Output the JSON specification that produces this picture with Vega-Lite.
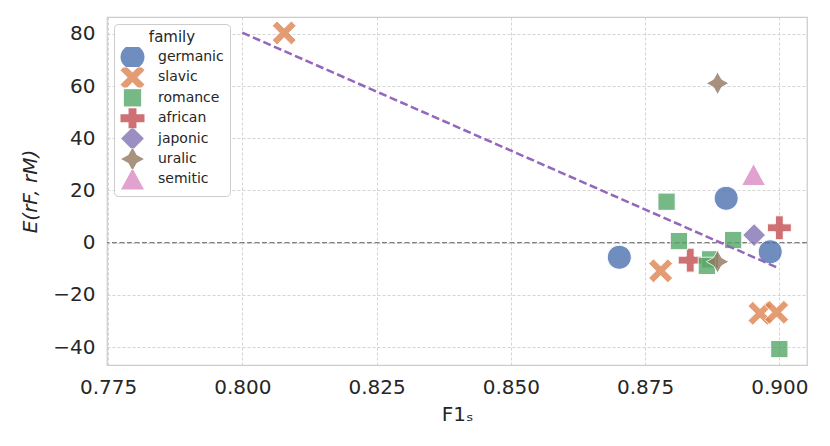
{
  "$schema": "https://vega.github.io/schema/vega-lite/v6.json",
  "width": 700,
  "height": 348,
  "autosize": {"type": "none"},
  "padding": {"left": 107, "top": 17, "right": 23, "bottom": 81},
  "config": {
    "view": {"stroke": "#cccccc", "strokeWidth": 1.25},
    "axis": {
      "labelFont": "DejaVu Sans",
      "labelFontSize": 20,
      "labelColor": "#262626",
      "titleFont": "DejaVu Sans",
      "titleFontSize": 20,
      "titleFontWeight": "normal",
      "titleColor": "#262626",
      "ticks": false,
      "domain": false,
      "grid": true,
      "gridColor": "#cfcfcf",
      "gridDash": [3, 2],
      "gridWidth": 0.9
    },
    "legend": {
      "orient": "top-left",
      "offset": 7,
      "titleAnchor": "middle",
      "titleFont": "DejaVu Sans",
      "titleFontSize": 15,
      "titleFontWeight": "normal",
      "titleColor": "#262626",
      "titlePadding": 2,
      "labelFont": "DejaVu Sans",
      "labelFontSize": 14,
      "labelColor": "#262626",
      "labelOffset": 13,
      "symbolSize": 576,
      "symbolStrokeColor": "white",
      "symbolStrokeWidth": 1,
      "symbolOpacity": 0.8,
      "clipHeight": 20,
      "rowPadding": 0.4,
      "padding": 6,
      "fillColor": "white",
      "strokeColor": "#cccccc",
      "cornerRadius": 4
    }
  },
  "datasets": {
    "points": [
      {"family": "germanic", "f1": 0.8702, "e": -5.6},
      {"family": "germanic", "f1": 0.8901, "e": 17.0},
      {"family": "germanic", "f1": 0.8983, "e": -3.5},
      {"family": "slavic", "f1": 0.8078, "e": 80.4},
      {"family": "slavic", "f1": 0.8779, "e": -10.8},
      {"family": "slavic", "f1": 0.8964, "e": -27.1},
      {"family": "slavic", "f1": 0.8995, "e": -26.7},
      {"family": "african", "f1": 0.9000, "e": 5.7},
      {"family": "african", "f1": 0.8834, "e": -6.7},
      {"family": "romance", "f1": 0.8790, "e": 15.7},
      {"family": "romance", "f1": 0.8813, "e": 0.6},
      {"family": "romance", "f1": 0.8914, "e": 1.0},
      {"family": "romance", "f1": 0.8871, "e": -6.4},
      {"family": "romance", "f1": 0.8865, "e": -8.9},
      {"family": "romance", "f1": 0.9000, "e": -40.8},
      {"family": "japonic", "f1": 0.8953, "e": 2.9},
      {"family": "uralic", "f1": 0.8885, "e": 61.1},
      {"family": "uralic", "f1": 0.8885, "e": -7.3},
      {"family": "semitic", "f1": 0.8952, "e": 26.1}
    ],
    "fit": [
      {"f1": 0.800, "e": 80.5},
      {"f1": 0.900, "e": -9.9}
    ],
    "zero": [
      {"e": 0}
    ]
  },
  "layer": [
    {
      "data": {"name": "zero"},
      "mark": {"type": "rule", "color": "#7f7f7f", "strokeDash": [5, 2.5], "strokeWidth": 1.2},
      "encoding": {
        "y": {
          "field": "e",
          "type": "quantitative",
          "scale": {"domain": [-46.9, 86.5], "nice": false, "zero": false},
          "axis": {
            "title": "E(rF, rM)",
            "grid": true,
            "titleFontStyle": "italic",
            "values": [-40, -20, 0, 20, 40, 60, 80],
            "labelPadding": 12,
            "titlePadding": 12
          }
        }
      }
    },
    {
      "data": {"name": "points"},
      "mark": {"type": "point", "filled": true, "size": 576, "opacity": 0.8, "stroke": "white", "strokeWidth": 1},
      "encoding": {
        "x": {
          "field": "f1",
          "type": "quantitative",
          "scale": {"domain": [0.7748, 0.90515], "nice": false, "zero": false},
          "axis": {
            "title": "F1ₛ",
            "grid": true,
            "values": [0.775, 0.8, 0.825, 0.85, 0.875, 0.9],
            "format": ".3f",
            "labelPadding": 12,
            "titlePadding": 7,
            "labelFlush": false,
            "labelOverlap": false
          }
        },
        "y": {
          "field": "e",
          "type": "quantitative",
          "scale": {"domain": [-46.9, 86.5], "nice": false, "zero": false},
          "axis": {
            "title": "E(rF, rM)",
            "grid": true,
            "titleFontStyle": "italic",
            "values": [-40, -20, 0, 20, 40, 60, 80],
            "labelPadding": 12,
            "titlePadding": 12
          }
        },
        "color": {
          "field": "family",
          "type": "nominal",
          "title": "family",
          "scale": {
            "domain": ["germanic", "slavic", "romance", "african", "japonic", "uralic", "semitic"],
            "range": ["#4C72B0", "#DD8452", "#55A868", "#C44E52", "#8172B3", "#937860", "#DA8BC3"]
          }
        },
        "shape": {
          "field": "family",
          "type": "nominal",
          "title": "family",
          "scale": {
            "domain": ["germanic", "slavic", "romance", "african", "japonic", "uralic", "semitic"],
            "range": [
              "M-1,0A1,1,0,1,1,1,0A1,1,0,1,1,-1,0Z",
              "M0,-0.4L0.6,-1L1,-0.6L0.4,0L1,0.6L0.6,1L0,0.4L-0.6,1L-1,0.6L-0.4,0L-1,-0.6L-0.6,-1Z",
              "M-0.72,-0.72H0.72V0.72H-0.72Z",
              "M-0.33,-1H0.33V-0.33H1V0.33H0.33V1H-0.33V0.33H-1V-0.33H-0.33Z",
              "M0,-0.95L0.95,0L0,0.95L-0.95,0Z",
              "M0,-0.95L0.34,-0.34L0.95,0L0.34,0.34L0,0.95L-0.34,0.34L-0.95,0L-0.34,-0.34Z",
              "M0,-0.92L1,0.92L-1,0.92Z"
            ]
          }
        }
      }
    },
    {
      "data": {"name": "fit"},
      "mark": {"type": "line", "color": "#9467bd", "strokeDash": [8, 3.5], "strokeWidth": 2.5},
      "encoding": {
        "x": {"field": "f1", "type": "quantitative"},
        "y": {"field": "e", "type": "quantitative"}
      }
    }
  ]
}
